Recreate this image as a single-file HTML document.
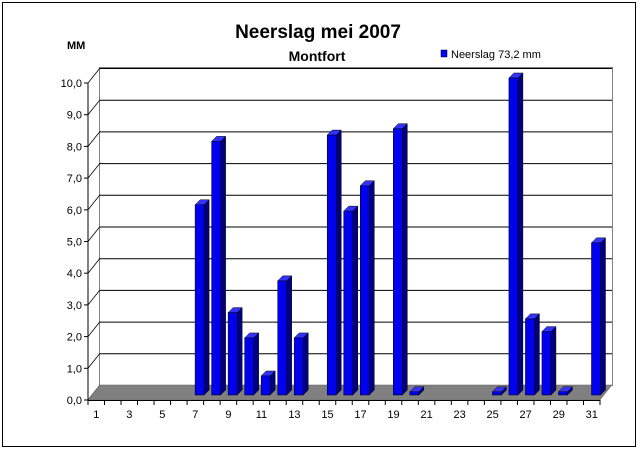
<!DOCTYPE html>
<html><head><style>
html,body{margin:0;padding:0;background:#fff;}
svg{display:block;font-family:"Liberation Sans",Arial,sans-serif;}
</style></head><body>
<svg width="640" height="450" viewBox="0 0 640 450" xmlns="http://www.w3.org/2000/svg">
<rect x="2.5" y="2.5" width="633" height="444" fill="#fff" stroke="#000"/>
<text x="318" y="38" text-anchor="middle" font-size="19" font-weight="bold">Neerslag mei 2007</text>
<text x="317" y="61" text-anchor="middle" font-size="14" font-weight="bold">Montfort</text>
<text x="67" y="49" font-size="11" font-weight="bold">MM</text>
<rect x="441" y="50" width="6" height="7" fill="#0000ff" stroke="#000" stroke-width="0.5"/>
<text x="451" y="58" font-size="11">Neerslag 73,2 mm</text>
<rect x="99.5" y="67.5" width="513" height="318" fill="#fff" stroke="#808080"/>
<g id="grid"></g>
<polygon points="88,400 100,385 612,385 600,400" fill="#808080" stroke="#606060" stroke-width="0.5"/>
<g id="bars"></g>
<line x1="88" y1="83" x2="88" y2="400" stroke="#000"/>
<line x1="88" y1="400.5" x2="600" y2="400.5" stroke="#000"/>
<g id="labels" font-size="11"></g>
<script>
(function(){
var ns="http://www.w3.org/2000/svg";
function el(t,a,p){var e=document.createElementNS(ns,t);for(var k in a)e.setAttribute(k,a[k]);p.appendChild(e);return e;}
var g=document.getElementById('grid'),lb=document.getElementById('labels'),bg=document.getElementById('bars');
for(var i=0;i<=10;i++){
 var yf=400-i*31.7, yb=yf-15;
 if(i>0){el('line',{x1:100,y1:yb+0.5,x2:612,y2:yb+0.5,stroke:'#000'},g);}
 el('line',{x1:88,y1:yf,x2:100,y2:yb,stroke:'#000','stroke-width':0.8},g);
 el('line',{x1:84,y1:yf,x2:88,y2:yf,stroke:'#000'},lb);
 var t=el('text',{x:82,y:yf+4,'text-anchor':'end'},lb);t.textContent=i+',0';
}
var cw=512/31;
for(var i=0;i<=31;i++){var x=88+i*cw;el('line',{x1:x,y1:400,x2:x,y2:405,stroke:'#000'},lb);}
for(var d=1;d<=31;d+=2){var t=el('text',{x:88+(d-0.5)*cw,y:418,'text-anchor':'middle'},lb);t.textContent=d;}
var v={7:6,8:8,9:2.6,10:1.8,11:0.6,12:3.6,13:1.8,15:8.2,16:5.8,17:6.6,19:8.4,20:0.1,25:0.1,26:10,27:2.4,28:2,29:0.1,31:4.8};
for(var k in v){
 var dd=parseInt(k,10);
 var x=88+(dd-1)*cw+8, w=9, base=395, tp=base-v[k]*31.7, dx=5, dy=5;
 el('polygon',{points:(x+w)+','+base+' '+(x+w+dx)+','+(base-dy)+' '+(x+w+dx)+','+(tp-dy)+' '+(x+w)+','+tp,fill:'#000080',stroke:'#000','stroke-width':0.5},bg);
 el('polygon',{points:x+','+tp+' '+(x+dx)+','+(tp-dy)+' '+(x+w+dx)+','+(tp-dy)+' '+(x+w)+','+tp,fill:'#3333ff',stroke:'#000','stroke-width':0.5},bg);
 el('rect',{x:x,y:tp,width:w,height:base-tp,fill:'#0000ee',stroke:'#000','stroke-width':0.5},bg);
}
})();
</script>
</svg>
</body></html>
